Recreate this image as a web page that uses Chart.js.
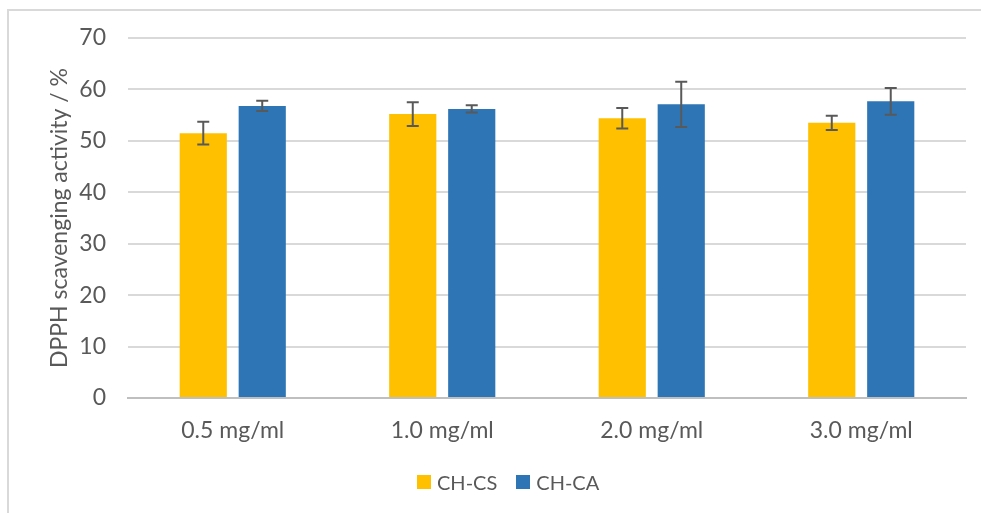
<!DOCTYPE html>
<html>
<head>
<meta charset="utf-8">
<script src="https://cdn.jsdelivr.net/npm/chart.js@4.4.1/dist/chart.umd.min.js"></script>
<style>
  html, body { margin: 0; padding: 0; background: #fff; }
  #wrap { position: relative; width: 981px; height: 513px; overflow: hidden; }
  #frame { position: absolute; left: 7px; top: 9px; width: 1000px; height: 520px;
           border-top: 2px solid #d9d9d9; border-left: 2px solid #d9d9d9; }
  #myChart { position: absolute; left: 0; top: 0; }
  #legend { position: absolute; left: 417px; top: 469px; height: 26px; display: flex; align-items: center;
            font-family: Lato; font-size: 20px; color: #595959; }
  .item { display: flex; align-items: center; margin-right: 19px; }
  .box { width: 14px; height: 14px; margin-right: 6px; }
</style>
</head>
<body>
<div id="wrap">
  <div id="frame"></div>
  <canvas id="myChart" width="981" height="513"></canvas>
  <div id="legend"></div>
</div>
<script>
let categories = ["0.5 mg/ml", "1.0 mg/ml", "2.0 mg/ml", "3.0 mg/ml"]
let cs_values = [51.5, 55.2, 54.4, 53.5]
let cs_errors = [2.2, 2.3, 2.0, 1.4]
let ca_values = [56.8, 56.2, 57.1, 57.7]
let ca_errors = [1.0, 0.7, 4.4, 2.6]
let y_ticks = [0, 10, 20, 30, 40, 50, 60, 70]

const FONT = "Lato"
const TEXT_COLOR = "#595959"

// error bars drawn through the y scale
const errorBars = {
    id: 'errorBars',
    afterDatasetsDraw(chart) {
        const ctx = chart.ctx
        const yScale = chart.scales.y
        chart.data.datasets.forEach((ds, i) => {
            const meta = chart.getDatasetMeta(i)
            meta.data.forEach((bar, j) => {
                let v = ds.data[j]
                let e = ds.errors[j]
                let top = yScale.getPixelForValue(v + e)
                let bottom = yScale.getPixelForValue(v - e)
                ctx.save()
                ctx.strokeStyle = "#595959"
                ctx.lineWidth = 2
                ctx.beginPath()
                ctx.moveTo(bar.x, top)
                ctx.lineTo(bar.x, bottom)
                ctx.moveTo(bar.x - 6, top)
                ctx.lineTo(bar.x + 6, top)
                ctx.moveTo(bar.x - 6, bottom)
                ctx.lineTo(bar.x + 6, bottom)
                ctx.stroke()
                ctx.restore()
            })
        })
    }
}

const ctx = document.getElementById('myChart').getContext('2d')
const myChart = new Chart(ctx, {
    type: 'bar',
    data: {
        labels: categories,
        datasets: [{
            label: 'CH-CS',
            data: cs_values,
            errors: cs_errors,
            backgroundColor: '#FFC000',
            barPercentage: 0.8,
            categoryPercentage: 0.563
        }, {
            label: 'CH-CA',
            data: ca_values,
            errors: ca_errors,
            backgroundColor: '#2E75B6',
            barPercentage: 0.8,
            categoryPercentage: 0.563
        }]
    },
    options: {
        responsive: false,
        animation: false,
        layout: { padding: { left: 0, right: 15, top: 38, bottom: 63 } },
        plugins: {
            legend: { display: false },
            tooltip: { enabled: false }
        },
        scales: {
            x: {
                grid: { display: false, drawTicks: false },
                border: { display: true, color: '#bfbfbf', width: 2 },
                ticks: { color: TEXT_COLOR, padding: 19, font: { family: FONT, size: 23 } },
                afterFit: (scale) => { scale.height = 52 }
            },
            y: {
                min: 0,
                max: 70,
                afterBuildTicks: (scale) => { scale.ticks = y_ticks.map(v => ({ value: v })) },
                grid: { color: '#d9d9d9', lineWidth: 2, drawTicks: false },
                border: { display: false },
                ticks: { color: TEXT_COLOR, padding: 22, font: { family: FONT, size: 23 } },
                title: {
                    display: true,
                    text: 'DPPH scavenging activity / %',
                    color: TEXT_COLOR,
                    padding: { top: 46, bottom: 0 },
                    font: { family: FONT, size: 23 }
                },
                afterFit: (scale) => { scale.width = 128 }
            }
        }
    },
    plugins: [errorBars]
})

// legend built from the datasets
let legend_html = ``
myChart.data.datasets.forEach(ds => {
    legend_html += `<div class="item"><div class="box" style="background:${ds.backgroundColor}"></div>${ds.label}</div>`
})
document.getElementById('legend').innerHTML = legend_html
</script>
</body>
</html>
